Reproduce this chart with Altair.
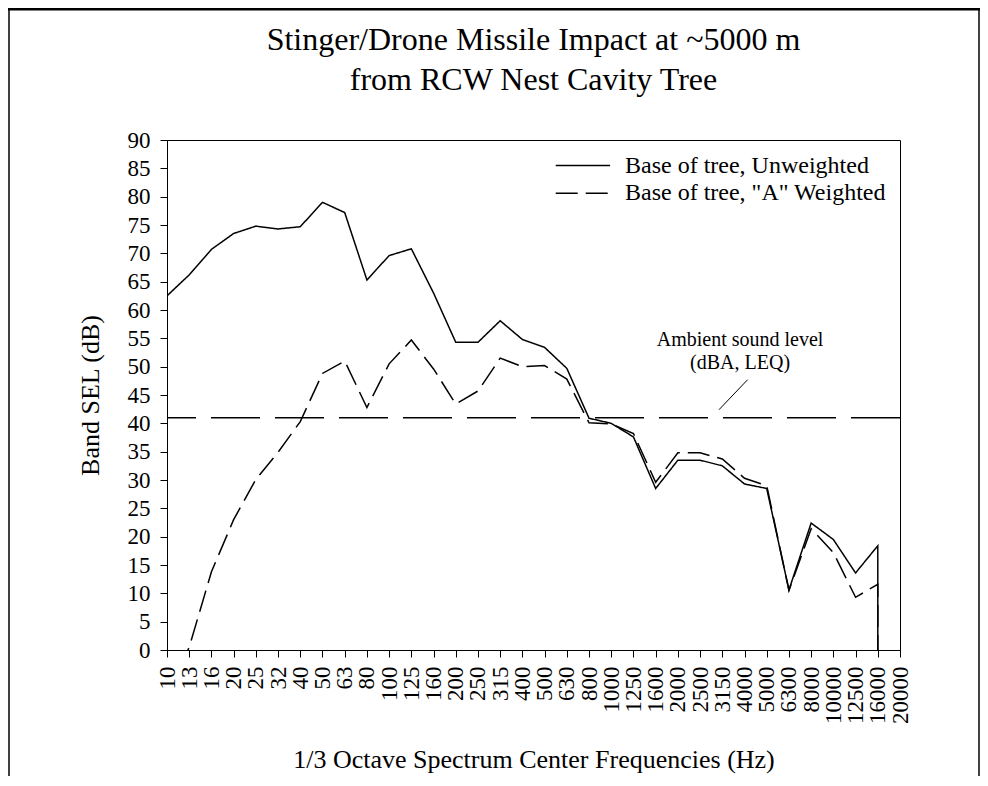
import altair as alt
import pandas as pd

freqs = ["10", "13", "16", "20", "25", "32", "40", "50", "63", "80", "100", "125",
         "160", "200", "250", "315", "400", "500", "630", "800", "1000", "1250",
         "1600", "2000", "2500", "3150", "4000", "5000", "6300", "8000", "10000",
         "12500", "16000", "20000"]

# Band SEL (dB), 10 Hz .. 16000 Hz
unweighted = [62.5, 66.2, 70.7, 73.5, 74.8, 74.3, 74.7, 79.0, 77.2, 65.3, 69.6, 70.8,
              63.0, 54.3, 54.3, 58.1, 54.8, 53.4, 49.7, 40.9, 40.0, 37.6, 28.5, 33.5,
              33.5, 32.5, 29.3, 28.5, 10.6, 22.4, 19.5, 13.6, 18.4]
a_weighted = [-8.0, 0.5, 13.8, 23.0, 30.1, 34.9, 40.3, 48.8, 51.0, 42.8, 50.5, 54.7,
              49.6, 43.4, 45.7, 51.5, 50.0, 50.2, 47.8, 40.1, 39.9, 38.2, 29.6, 34.8,
              34.8, 33.7, 30.3, 29.0, 10.5, 21.4, 17.2, 9.3, 11.6]
end_value = 0.0          # both curves drop to 0 at 16000 Hz
ambient = 41.0           # ambient sound level (dBA, LEQ)

series_names = ["Base of tree, Unweighted", 'Base of tree, "A" Weighted']
annotation_lines = ["Ambient sound level", "(dBA, LEQ)"]

FONT = "Liberation Serif"

rows = []
for name, vals in zip(series_names, [unweighted, a_weighted]):
    for i, v in enumerate(vals):
        rows.append({"series": name, "idx": i, "value": v, "seq": i})
    rows.append({"series": name, "idx": len(vals) - 1, "value": end_value, "seq": len(vals)})
df = pd.DataFrame(rows)

label_expr = "[" + ",".join("'" + f + "'" for f in freqs) + "][datum.value]"

x_enc = alt.X(
    "idx:Q",
    scale=alt.Scale(domain=[0, len(freqs) - 1], nice=False, zero=False),
    axis=alt.Axis(values=list(range(len(freqs))), labelExpr=label_expr, labelAngle=-90,
                  labelFontSize=23, labelPadding=9, labelOverlap=False, labelFlush=False,
                  titleFontSize=26, titlePadding=23, grid=False),
    title="1/3 Octave Spectrum Center Frequencies (Hz)",
)
y_enc = alt.Y(
    "value:Q",
    scale=alt.Scale(domain=[0, 90], nice=False),
    axis=alt.Axis(values=list(range(0, 91, 5)), labelFontSize=23, labelPadding=10,
                  labelOverlap=False, titleFontSize=26, titlePadding=24, grid=False),
    title="Band SEL (dB)",
)
dash_enc = alt.StrokeDash(
    "series:N",
    scale=alt.Scale(domain=series_names, range=[[1, 0], [22, 8]]),
    legend=None,
)

lines = alt.Chart(df).mark_line(color="black", strokeWidth=1.5, clip=True).encode(
    x=x_enc, y=y_enc, order="seq:Q", strokeDash=dash_enc,
)

# legend drawn as marks (keys share the strokeDash scale)
leg_key_df = pd.DataFrame({
    "series": series_names,
    "idx": [17.5, 17.5], "idx2": [19.95, 19.95],
    "value": [85.5, 80.6],
})
leg_text_df = pd.DataFrame({
    "series": series_names,
    "idx": [20.62, 20.62],
    "value": [85.5, 80.6],
})
leg_keys = alt.Chart(leg_key_df).mark_rule(color="black", strokeWidth=1.5).encode(
    x=x_enc, x2="idx2", y=y_enc, strokeDash=dash_enc)
leg_text = alt.Chart(leg_text_df).mark_text(font=FONT, fontSize=24, color="black", align="left",
                                            baseline="middle").encode(
    x=x_enc, y=y_enc, text="series:N")

amb = alt.Chart(pd.DataFrame({"value": [ambient]})).mark_rule(
    color="black", strokeWidth=1.5, strokeDash=[49, 15]
).encode(y=y_enc)

ann_df = pd.DataFrame({"idx": [25.8, 25.8], "value": [53.6, 49.6], "text": annotation_lines})
ann = alt.Chart(ann_df).mark_text(font=FONT, fontSize=20, color="black", align="center",
                                  baseline="alphabetic").encode(x=x_enc, y=y_enc, text="text:N")

lead_df = pd.DataFrame({"idx": [24.85], "idx2": [26.14], "value": [42.4], "value2": [47.7]})
lead = alt.Chart(lead_df).mark_rule(color="black", strokeWidth=1).encode(
    x=x_enc, x2="idx2", y=y_enc, y2="value2")

one = pd.DataFrame({"a": [0]})
frame_top = alt.Chart(one).mark_rule(color="black", strokeWidth=3).encode(
    x=alt.value(-159), x2=alt.value(813), y=alt.value(-131))
frame_left = alt.Chart(one).mark_rule(color="black", strokeWidth=1.5).encode(
    x=alt.value(-158), y=alt.value(-132), y2=alt.value(650))
frame_right = alt.Chart(one).mark_rule(color="black", strokeWidth=1.5).encode(
    x=alt.value(812), y=alt.value(-132), y2=alt.value(650))

chart = alt.layer(lines, amb, lead, ann, leg_keys, leg_text,
                  frame_top, frame_left, frame_right).properties(
    width=733,
    height=510,
    background="white",
    autosize=alt.AutoSizeParams(type="none"),
    padding={"left": 159, "top": 132, "right": 80, "bottom": 126},
    title=alt.TitleParams(
        text=["Stinger/Drone Missile Impact at ~5000 m", "from RCW Nest Cavity Tree"],
        font=FONT, fontSize=32, fontWeight="normal", color="black", anchor="middle",
        frame="group", lineHeight=40, offset=-90,
    ),
).configure_view(stroke="black", strokeWidth=1).configure_axis(
    grid=False, domainColor="black", tickColor="black", labelColor="black",
    titleColor="black", labelFont=FONT, titleFont=FONT, titleFontWeight="normal",
    tickSize=7, domainWidth=1, tickWidth=1,
)

chart.save("out.html", embed_options={"renderer": "svg", "actions": False})
